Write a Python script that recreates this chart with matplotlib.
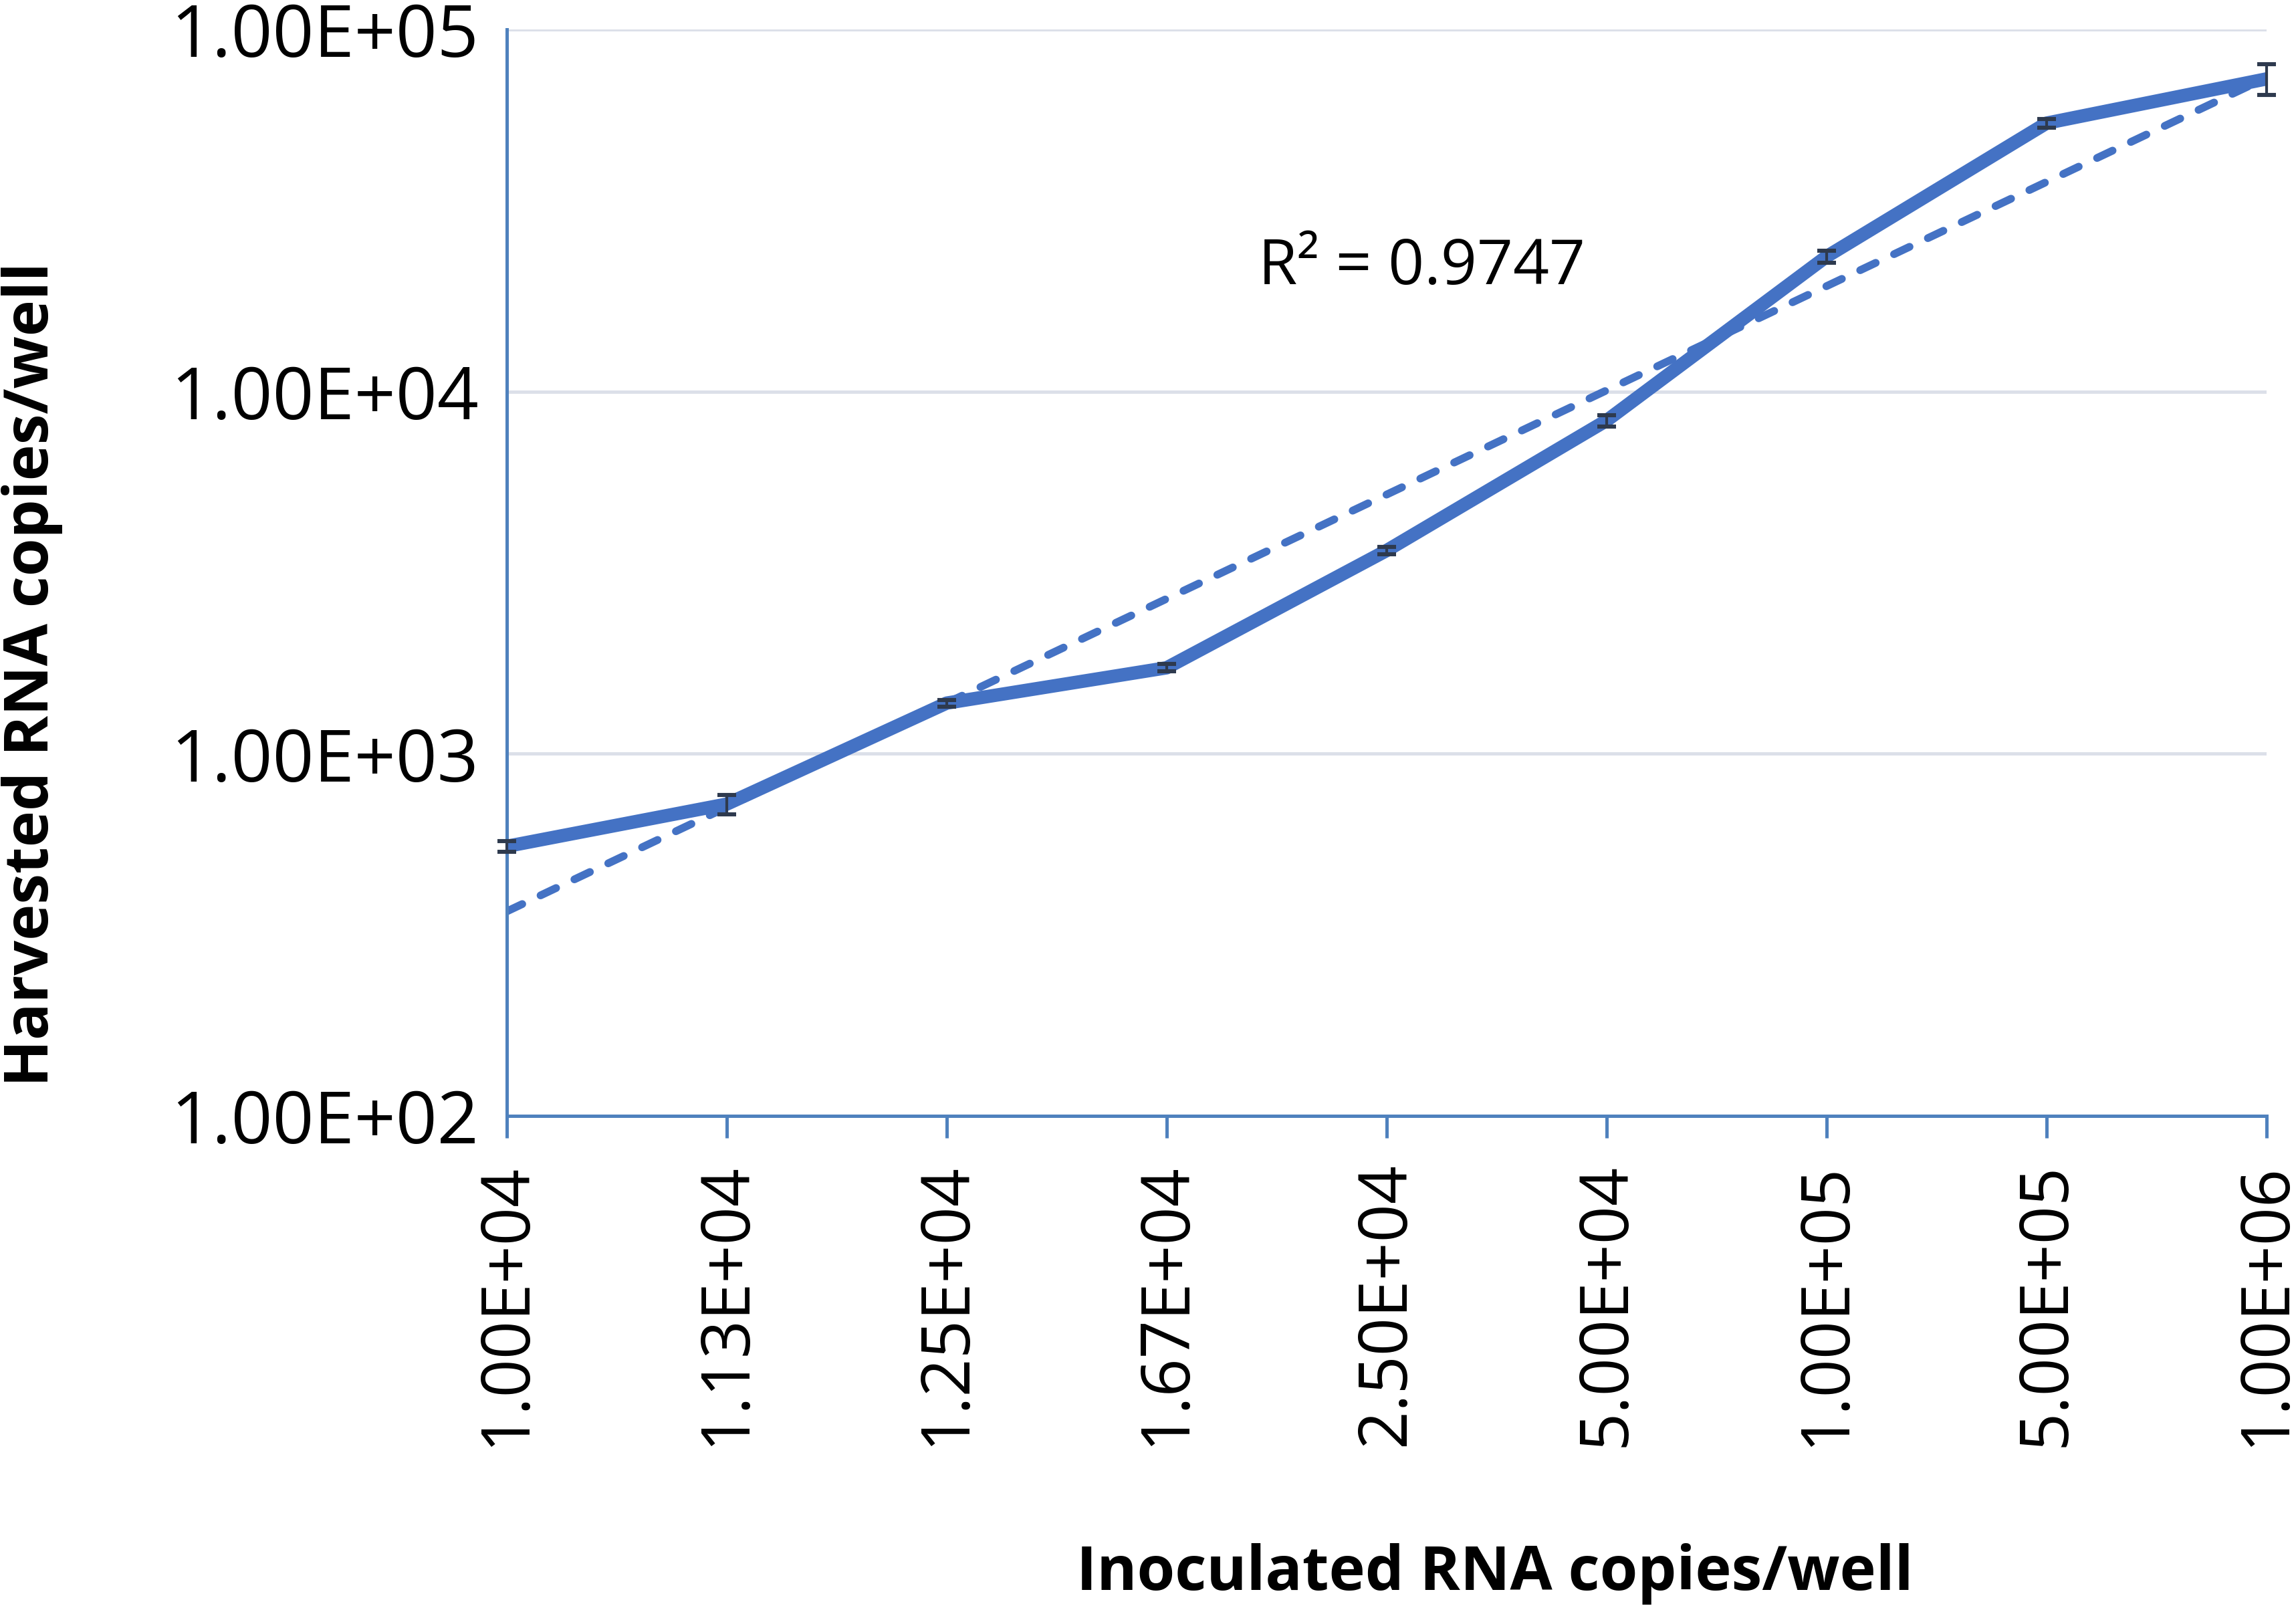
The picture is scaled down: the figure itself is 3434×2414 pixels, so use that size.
import numpy as np
import matplotlib
matplotlib.use("Agg")
import matplotlib.pyplot as plt
from matplotlib.ticker import FixedLocator, NullLocator

plt.rcParams['font.family'] = ['Open Sans', 'DejaVu Sans']

# data
inoculated = ["1.00E+04", "1.13E+04", "1.25E+04", "1.67E+04", "2.50E+04",
              "5.00E+04", "1.00E+05", "5.00E+05", "1.00E+06"]
harvested = [555, 726, 1380, 1727, 3640, 8320, 23600, 55100, 73000]
harvested_err = [20, 45, 30, 40, 80, 300, 900, 1500, 7000]
y_ticks = [1e2, 1e3, 1e4, 1e5]
y_ticklabels = ["1.00E+02", "1.00E+03", "1.00E+04", "1.00E+05"]
r2_label = "R² = 0.9747"

line_col = "#4472C4"
spine_col = "#4F81BD"
grid_col = "#DCE0E9"
err_col = "#2E3A4E"

fig = plt.figure(figsize=(17.17, 12.07), dpi=200)
ax = fig.add_axes([0.2207, 0.3086, 0.9872 - 0.2207, 0.9818 - 0.3086])

x = np.arange(len(inoculated))
ax.plot(x, harvested, color=line_col, lw=7.2, solid_capstyle="butt",
        solid_joinstyle="round", zorder=3)
ax.errorbar(x, harvested, yerr=harvested_err, fmt="none", ecolor=err_col,
            elinewidth=1.5, capsize=5, capthick=2.2, zorder=4, clip_on=False)

# exponential trendline (linear fit in log space)
slope, icpt = np.polyfit(x, np.log10(harvested), 1)
xf = np.linspace(x[0], x[-1], 200)
ax.plot(xf, 10 ** (icpt + slope * xf), color=line_col, lw=4.2,
        dashes=(2.2, 2.6), dash_capstyle="round", zorder=2)

ax.set_yscale("log")
ax.set_ylim(1e2, 1e5)
ax.set_xlim(x[0], x[-1])
ax.yaxis.set_major_locator(FixedLocator(y_ticks))
ax.yaxis.set_minor_locator(NullLocator())
ax.set_yticklabels(y_ticklabels)
ax.set_xticks(x)
ax.set_xticklabels(inoculated, rotation=90, va="top")

ax.grid(axis="y", color=grid_col, lw=1.8, zorder=0)
ax.set_axisbelow(True)
for s in ["top", "right"]:
    ax.spines[s].set_visible(False)
for s in ["left", "bottom"]:
    ax.spines[s].set_color(spine_col)
    ax.spines[s].set_linewidth(1.8)
ax.tick_params(axis="y", length=0, pad=15, labelsize=39)
ax.tick_params(axis="x", length=12, width=1.8, color=spine_col,
               pad=13, labelsize=36)

ax.text(0.548, 0.834, r2_label, transform=fig.transFigure, fontsize=34,
        va="center", ha="left")
fig.text(0.651, 0.025, "Inoculated RNA copies/well", fontsize=33,
         fontweight="bold", ha="center", va="center")
fig.text(0.014, 0.582, "Harvested RNA copies/well", fontsize=33,
         fontweight="bold", ha="center", va="center", rotation=90)

fig.savefig("out.png", dpi=200)
